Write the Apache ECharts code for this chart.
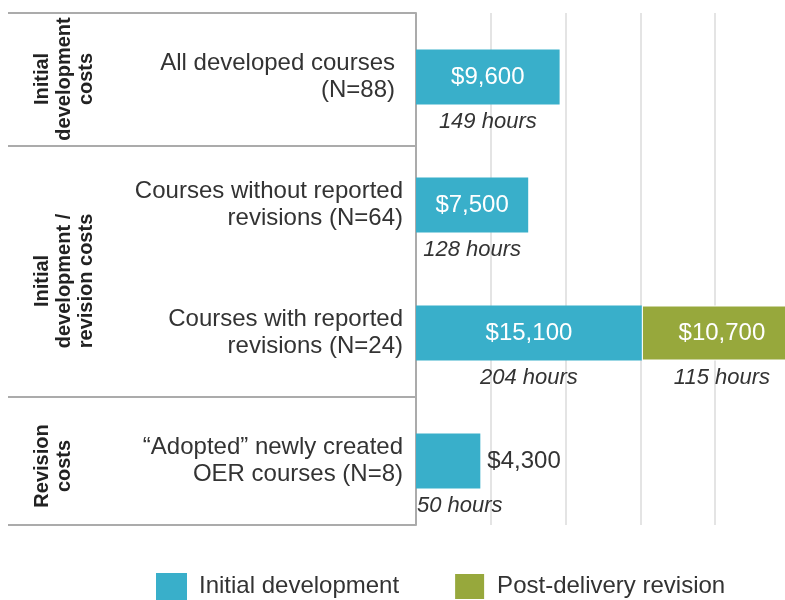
<!DOCTYPE html>
<html>
<head>
<meta charset="utf-8">
<title>OER course costs</title>
<script src="https://cdn.jsdelivr.net/npm/echarts@6/dist/echarts.min.js"></script>
<style>
  html, body { margin: 0; padding: 0; background: #fff; }
  #chart { width: 785px; height: 600px; }
</style>
</head>
<body>
<div id="chart"></div>
<script>
var categories = [
  'All developed courses\n(N=88)',
  'Courses without reported\nrevisions (N=64)',
  'Courses with reported\nrevisions (N=24)',
  '\u201cAdopted\u201d newly created\nOER courses (N=8)'
]
var initialCost = [9600, 7500, 15100, 4300]
var revisionCost = [null, null, 10700, null]
var initialHours = [149, 128, 204, 50]
var revisionHours = [null, null, 115, null]
var groupNames = ['Initial\ndevelopment\ncosts', 'Initial\ndevelopment /\nrevision costs', 'Revision\ncosts']

var TEAL = '#39afca'
var GREEN = '#97a83c'
var FONT = '"Liberation Sans", Arial, sans-serif'

var chart = echarts.init(document.getElementById('chart'))

function money(v) {
  return '$' + Number(v).toLocaleString('en-US')
}

// the $4,300 bar is too short, its label sits outside
var initialData = initialCost.map(function(v, i) {
  if (i === 3) {
    return { value: v, label: { position: 'right', distance: 7, color: '#333' } }
  }
  return v
})

// "50 hours" is left aligned under its bar
var hoursData = initialCost.map(function(v, i) {
  if (i === 3) {
    return { value: v, label: { position: [1, '112%'], align: 'left', verticalAlign: 'top' } }
  }
  return v
})

function groupText(text, y) {
  return {
    type: 'text',
    x: 31,
    y: y,
    rotation: Math.PI / 2,
    style: {
      text: text,
      font: 'bold 20px ' + FONT,
      fill: '#222',
      align: 'center',
      verticalAlign: 'top',
      lineHeight: 22
    }
  }
}

function rule(y) {
  return {
    type: 'line',
    shape: { x1: 8, y1: y, x2: 416, y2: y },
    style: { stroke: '#ababab', lineWidth: 2 }
  }
}

var hoursLabel = {
  show: true,
  position: 'bottom',
  distance: 6,
  fontFamily: FONT,
  fontSize: 22,
  fontStyle: 'italic',
  color: '#333'
}

chart.setOption({
  animation: false,
  textStyle: { fontFamily: FONT },
  grid: {
    left: 416,
    width: 374,
    top: 13,
    bottom: 75,
    outerBoundsMode: 'none'
  },
  legend: {
    left: 151,
    top: 567,
    itemWidth: 31,
    itemHeight: 27,
    itemGap: 54,
    icon: 'rect',
    data: ['Initial development', 'Post-delivery revision'],
    textStyle: {
      fontFamily: FONT,
      fontSize: 24,
      color: '#333',
      padding: [0, 0, 0, 7]
    }
  },
  xAxis: {
    type: 'value',
    min: 0,
    max: 25000,
    interval: 5000,
    axisLabel: { show: false },
    axisTick: { show: false },
    axisLine: { show: false },
    splitLine: {
      show: true,
      lineStyle: { color: '#e4e4e4', width: 2 }
    }
  },
  yAxis: {
    type: 'category',
    inverse: true,
    data: categories,
    axisTick: { show: false },
    axisLine: {
      show: true,
      lineStyle: { color: '#ababab', width: 2 }
    },
    axisLabel: {
      margin: 13,
      fontFamily: FONT,
      fontSize: 24,
      lineHeight: 27,
      color: '#333',
      // the first label sits a little further from the axis
      formatter: function(v, i) {
        if (i !== 0) return v
        return v.split('\n').map(function(s) { return '{p|' + s + '}' }).join('\n')
      },
      rich: {
        p: { fontFamily: FONT, fontSize: 24, lineHeight: 27, color: '#333', padding: [0, 8, 0, 0] }
      }
    }
  },
  graphic: [
    rule(13),
    rule(146),
    rule(397),
    rule(525),
    groupText(groupNames[0], 79),
    groupText(groupNames[1], 281),
    groupText(groupNames[2], 466)
  ],
  series: [
    {
      name: 'Initial development',
      type: 'bar',
      stack: 'cost',
      barWidth: 55,
      clip: false,
      data: initialData,
      itemStyle: { color: TEAL },
      label: {
        show: true,
        position: 'inside',
        fontFamily: FONT,
        fontSize: 24,
        color: '#fff',
        formatter: function(p) { return money(p.value) }
      }
    },
    {
      name: 'Post-delivery revision',
      type: 'bar',
      stack: 'cost',
      barWidth: 55,
      clip: false,
      data: revisionCost,
      itemStyle: { color: GREEN, borderColor: '#fff', borderWidth: 1 },
      label: {
        show: true,
        position: 'inside',
        fontFamily: FONT,
        fontSize: 24,
        color: '#fff',
        formatter: function(p) { return money(p.value) }
      }
    },
    // invisible copies of the bars, only to hang the hours under them
    {
      name: 'hours initial',
      type: 'bar',
      stack: 'hours',
      barWidth: 55,
      barGap: '-100%',
      clip: false,
      silent: true,
      data: hoursData,
      itemStyle: { color: 'rgba(0,0,0,0)' },
      label: Object.assign({}, hoursLabel, {
        formatter: function(p) { return initialHours[p.dataIndex] + ' hours' }
      })
    },
    {
      name: 'hours revision',
      type: 'bar',
      stack: 'hours',
      barWidth: 55,
      barGap: '-100%',
      clip: false,
      silent: true,
      data: revisionCost,
      itemStyle: { color: 'rgba(0,0,0,0)' },
      label: Object.assign({}, hoursLabel, {
        formatter: function(p) { return revisionHours[p.dataIndex] + ' hours' }
      })
    }
  ]
})
</script>
</body>
</html>
